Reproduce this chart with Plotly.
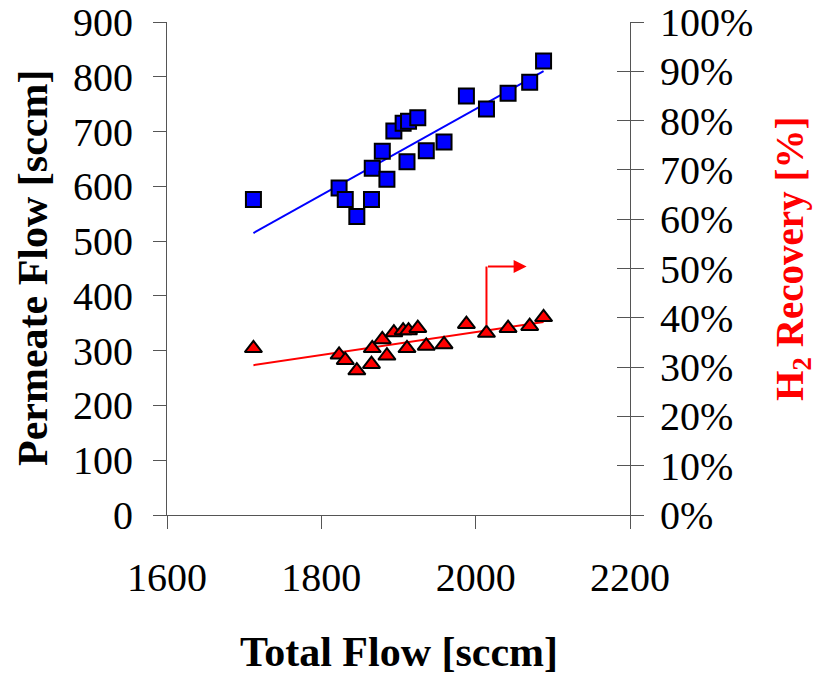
import numpy as np
import plotly.graph_objects as go

# Total feed flow for each run [sccm]
total_flow = [1712, 1823, 1831, 1846, 1865, 1866, 1879, 1885, 1894, 1906,
              1913, 1925, 1911, 1936, 1959, 1988, 2014, 2042, 2070, 2088]
# Permeate flow [sccm]
permeate_flow = [576, 597, 576, 545, 576, 633, 664, 613, 701, 715,
                 719, 725, 645, 665, 681, 765, 741, 770, 790, 829]
# H2 recovery [fraction]
h2_recovery = [0.338, 0.325, 0.314, 0.293, 0.306, 0.338, 0.356, 0.323, 0.370, 0.374,
               0.374, 0.379, 0.338, 0.343, 0.346, 0.387, 0.369, 0.379, 0.383, 0.401]

x_ticks = [1600, 1800, 2000, 2200]
y_ticks = list(range(0, 901, 100))

FONT = "Liberation Serif"
BLUE = "#0000FF"
RED = "#FF0000"

x = np.array(total_flow, dtype=float)
xfit = np.array([x.min(), x.max()])
pf = np.polyfit(x, np.array(permeate_flow, dtype=float), 1)
rf = np.polyfit(x, np.array(h2_recovery, dtype=float), 1)

fig = go.Figure()

# linear trend lines
fig.add_trace(go.Scatter(x=xfit, y=np.polyval(pf, xfit), mode="lines",
                         line=dict(color=BLUE, width=2), yaxis="y", showlegend=False))
fig.add_trace(go.Scatter(x=xfit, y=np.polyval(rf, xfit), mode="lines",
                         line=dict(color=RED, width=2), yaxis="y2", showlegend=False))

# measured points
fig.add_trace(go.Scatter(x=total_flow, y=permeate_flow, mode="markers",
                         marker=dict(symbol="square", size=15, color=BLUE,
                                     line=dict(color="black", width=2)),
                         yaxis="y", showlegend=False))
fig.add_trace(go.Scatter(x=total_flow, y=h2_recovery, mode="markers",
                         marker=dict(symbol="triangle-up", size=15, color=RED,
                                     line=dict(color="black", width=2)),
                         yaxis="y2", showlegend=False))

# arrow pointing the recovery series to the right-hand axis
arrow_x0, arrow_x1, arrow_y0, arrow_y1 = 2014, 2066, 0.385, 0.504
fig.add_shape(type="line", xref="x", yref="y2", x0=arrow_x0, x1=arrow_x0,
              y0=arrow_y0, y1=arrow_y1, line=dict(color=RED, width=2))
fig.add_annotation(x=arrow_x1, y=arrow_y1, xref="x", yref="y2",
                   ax=arrow_x0, ay=arrow_y1, axref="x", ayref="y2",
                   text="", showarrow=True, arrowhead=2, arrowsize=1.3,
                   arrowwidth=2, arrowcolor=RED)

axis_common = dict(showgrid=False, zeroline=False, showline=True, automargin=False,
                   linecolor="#555555", linewidth=1.2, tickcolor="#555555",
                   tickwidth=1.2, ticklen=13,
                   tickfont=dict(family=FONT, size=40, color="black"))

fig.update_layout(
    width=817, height=676,
    margin=dict(l=167, r=187, t=22, b=161),
    paper_bgcolor="white", plot_bgcolor="white",
    xaxis=dict(range=[1600, 2200], tickvals=x_ticks, ticks="outside",
               ticklabelstandoff=14, **axis_common),
    yaxis=dict(range=[0, 900], tickvals=y_ticks, ticks="outside",
               ticklabelstandoff=12, **axis_common),
    yaxis2=dict(range=[0, 1], dtick=0.1, tickformat=".0%", overlaying="y", side="right",
                ticks="outside", anchor="x", ticklabelstandoff=8, **axis_common),
    yaxis3=dict(range=[0, 1], dtick=0.1, overlaying="y", side="right", anchor="x",
                ticks="inside", showticklabels=False, showgrid=False, zeroline=False,
                showline=False, automargin=False, tickcolor="#555555", tickwidth=1.2,
                ticklen=13),
    annotations=list(fig.layout.annotations) + [
        dict(text="<b>Total Flow [sccm]</b>", xref="paper", yref="paper",
             x=(399 - 167) / 463, y=-(652 - 515) / 493, showarrow=False,
             font=dict(family=FONT, size=42, color="black"), xanchor="center", yanchor="middle"),
        dict(text="<b>Permeate Flow [sccm]</b>", xref="paper", yref="paper",
             x=-(167 - 33) / 463, y=(515 - 268) / 493, showarrow=False, textangle=-90,
             font=dict(family=FONT, size=42, color="black"), xanchor="center", yanchor="middle"),
        dict(text="<b>H<sub>2</sub> Recovery [%]</b>", xref="paper", yref="paper",
             x=1 + (792 - 630) / 463, y=(515 - 259) / 493, showarrow=False, textangle=-90,
             font=dict(family=FONT, size=39, color=RED), xanchor="center", yanchor="middle"),
    ],
)

# invisible trace so the inner tick axis is rendered
fig.add_trace(go.Scatter(x=[1600], y=[0], yaxis="y3", mode="markers",
                         marker=dict(opacity=0), showlegend=False, hoverinfo="skip"))

fig.write_html("out.html")
